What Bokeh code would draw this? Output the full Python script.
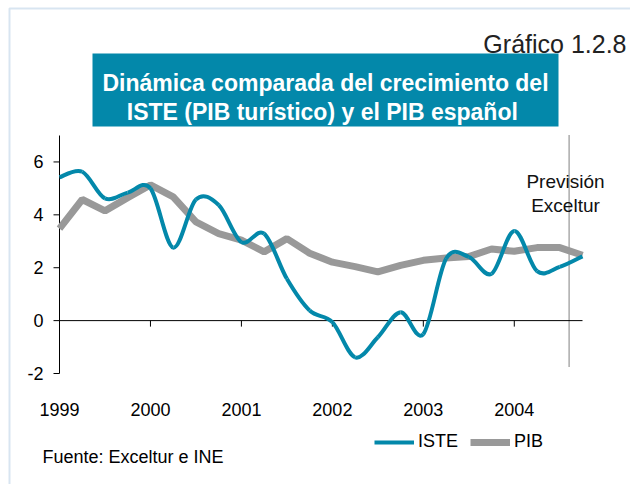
from bokeh.plotting import figure
from bokeh.models import (Range1d, Label, BoxAnnotation, Legend, LegendItem)
from bokeh.core.properties import value
from bokeh.embed import file_html
from bokeh.resources import INLINE

# ---------------- data ----------------
years = [1999, 2000, 2001, 2002, 2003, 2004]
quarters_per_year = 4
iste = [5.42, 5.63, 4.62, 4.84, 5.00, 2.76, 4.58, 4.37, 2.97, 3.29, 1.58, 0.38,
        -0.06, -1.39, -0.63, 0.32, -0.51, 2.34, 2.41, 1.77, 3.39, 1.87, 2.03, 2.43]
pib = [3.48, 4.58, 4.15, 4.65, 5.13, 4.68, 3.73, 3.29, 3.04, 2.60, 3.10, 2.55,
       2.21, 2.04, 1.84, 2.09, 2.28, 2.37, 2.42, 2.71, 2.62, 2.76, 2.76, 2.47]
y_ticks = [-2, 0, 2, 4, 6]
forecast_start = 22.41  # position of the "Previsión Exceltur" divider (quarters)

x = list(range(len(iste)))
year_ticks = [i * quarters_per_year for i in range(len(years))]

# ---------------- layout: page pixels -> data ----------------
W, H = 630, 484
FL, FR, FT, FB = 59, 582, 135, 373      # plot-area edges in pixels
X0, X1, Y0, Y1 = 0, len(iste) - 1, -2, 7
PXU = (FR - FL) / (X1 - X0)
PYU = (FB - FT) / (Y1 - Y0)
def X(px):
    return X0 + (px - FL) / PXU
def Y(py):
    return Y0 + (FB - py) / PYU

TEAL = "#0388aa"
GREY = "#999999"
FONT = "Liberation Sans"

p = figure(width=W, height=H, x_range=Range1d(X(0), X(W)), y_range=Range1d(Y(H), Y(0)),
           x_axis_type=None, y_axis_type=None,
           output_backend="svg", toolbar_location=None,
           min_border=0, min_border_left=0, min_border_right=0,
           min_border_top=0, min_border_bottom=0)
p.outline_line_color = None
p.grid.visible = False
p.background_fill_color = "white"
p.border_fill_color = "white"

# outer box border of the chart
p.add_layout(BoxAnnotation(left=X(9), right=X(900), top=Y(8), bottom=Y(900),
                           fill_alpha=0, line_color="#7ea8cf", line_width=2))

# ---- y axis ----
p.segment(x0=[X0], y0=[Y0], x1=[X0], y1=[Y1], line_color="black", line_width=1)
p.segment(x0=[X0] * len(y_ticks), y0=y_ticks, x1=[X(FL - 6)] * len(y_ticks),
          y1=y_ticks, line_color="black", line_width=1)
p.text(x=[X(43)] * len(y_ticks), y=y_ticks, text=[str(t) for t in y_ticks],
       text_align="right", text_baseline="middle", text_font=value(FONT),
       text_font_size=value("18px"), text_color="black")

# ---- x axis at zero ----
p.segment(x0=[X0], y0=[0], x1=[X1], y1=[0], line_color="black", line_width=1)
p.segment(x0=year_ticks[1:], y0=[0] * (len(years) - 1), x1=year_ticks[1:],
          y1=[-6 / PYU] * (len(years) - 1), line_color="black", line_width=1)
p.text(x=year_ticks, y=[Y(409)] * len(years), text=[str(y) for y in years],
       text_align="center", text_baseline="alphabetic", text_font=value(FONT),
       text_font_size=value("18px"), text_color="black")

# ---- forecast divider ----
p.segment(x0=[forecast_start], y0=[Y1], x1=[forecast_start], y1=[Y(367)],
          line_color="black", line_width=1, line_dash="1 1")

# ---- PIB ----
r_pib = p.line(x, pib, line_color=GREY, line_width=7)

# ---- ISTE smoothed (cubic Bezier between consecutive points) ----
n = len(iste)
def pt(i):
    i = max(0, min(n - 1, i))
    return x[i], iste[i]
bx0, by0, bx1, by1, cx0, cy0, cx1, cy1 = [], [], [], [], [], [], [], []
for i in range(n - 1):
    xa, ya = pt(i)
    xb, yb = pt(i + 1)
    xp, yp = pt(i - 1)
    xn, yn = pt(i + 2)
    bx0.append(xa); by0.append(ya); bx1.append(xb); by1.append(yb)
    cx0.append(xa + (xb - xp) / 6); cy0.append(ya + (yb - yp) / 6)
    cx1.append(xb - (xn - xa) / 6); cy1.append(yb - (yn - ya) / 6)
r_iste = p.bezier(x0=bx0, y0=by0, x1=bx1, y1=by1, cx0=cx0, cy0=cy0, cx1=cx1, cy1=cy1,
                  line_color=TEAL, line_width=4)

# ---- legend ----
legend = Legend(items=[LegendItem(label="ISTE", renderers=[r_iste], index=0),
                       LegendItem(label="PIB", renderers=[r_pib])],
                orientation="horizontal", location=(374, H - 452),
                glyph_width=40, glyph_height=20, label_height=20, label_standoff=4,
                spacing=12, padding=0, margin=0, border_line_color=None,
                background_fill_alpha=0, label_text_font=FONT,
                label_text_font_size="18px", label_text_color="black")
p.add_layout(legend, "center")

# ---- title box ----
p.add_layout(BoxAnnotation(left=X(92), right=X(558), top=Y(53), bottom=Y(126),
                           fill_color=TEAL, fill_alpha=1, line_color=None))
for txt, base in [("Dinámica comparada del crecimiento del", 82),
                  ("ISTE (PIB turístico) y el  PIB español", 111)]:
    p.add_layout(Label(x=X(325), y=Y(base), text=txt, text_align="center",
                       text_baseline="alphabetic", text_font=FONT,
                       text_font_style="bold", text_font_size="23px",
                       text_color="white"))

p.add_layout(Label(x=X(626), y=Y(43), text="Gráfico 1.2.8", text_align="right",
                   text_baseline="alphabetic", text_font=FONT,
                   text_font_size="25px", text_color="#222222"))

for txt, base in [("Previsión", 181), ("Exceltur", 205)]:
    p.add_layout(Label(x=X(565), y=Y(base), text=txt, text_align="center",
                       text_baseline="alphabetic", text_font=FONT,
                       text_font_size="19px", text_color="#111111"))

p.add_layout(Label(x=X(42), y=Y(456), text="Fuente: Exceltur e INE",
                   text_align="left", text_baseline="alphabetic", text_font=FONT,
                   text_font_size="18px", text_color="black"))

open("out.html", "w").write(file_html(p, INLINE))
